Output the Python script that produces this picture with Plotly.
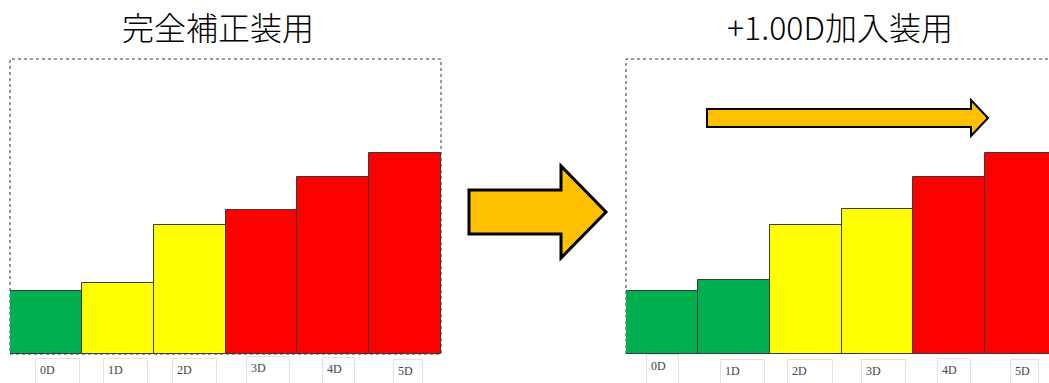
import plotly.graph_objects as go

# ---- data ----
categories = ["0D", "1D", "2D", "3D", "4D", "5D"]
full_values = [21.4, 24.1, 43.7, 48.8, 60.0, 68.1]
full_colors = ["#00B050", "#FFFF00", "#FFFF00", "#FF0000", "#FF0000", "#FF0000"]
add_values = [21.4, 25.1, 43.7, 49.2, 60.0, 68.1]
add_colors = ["#00B050", "#00B050", "#FFFF00", "#FFFF00", "#FF0000", "#FF0000"]
titles = ["完全補正装用", "+1.00D加入装用"]

W, H = 1049, 383


def px(x):
    return x / W


def py(y):
    return 1 - y / H


fig = go.Figure()
fig.add_trace(go.Bar(x=categories, y=full_values, marker=dict(color=full_colors, line=dict(color="#3a3a3a", width=1)),
                     width=1, xaxis="x", yaxis="y", hoverinfo="x+y"))
fig.add_trace(go.Bar(x=categories, y=add_values, marker=dict(color=add_colors, line=dict(color="#3a3a3a", width=1)),
                     width=1, xaxis="x2", yaxis="y2", hoverinfo="x+y"))

plot_top, plot_bottom = 59, 354
ydom = [py(plot_bottom), py(plot_top)]
left_dom = [px(10), px(441)]
right_dom = [px(626), 1.0]
cat_px = (441 - 10) / 6.0
right_end = -0.5 + (W - 626) / cat_px

axis_common = dict(showgrid=False, zeroline=False, showticklabels=False, showline=False, ticks="", fixedrange=True)
fig.update_layout(
    width=W, height=H,
    margin=dict(l=0, r=0, t=0, b=0),
    paper_bgcolor="white", plot_bgcolor="rgba(0,0,0,0)",
    showlegend=False, bargap=0,
    xaxis=dict(domain=left_dom, range=[-0.5, 5.5], anchor="y", **axis_common),
    yaxis=dict(domain=ydom, range=[0, 100], anchor="x", **axis_common),
    xaxis2=dict(domain=right_dom, range=[-0.5, right_end], anchor="y2", **axis_common),
    yaxis2=dict(domain=ydom, range=[0, 100], anchor="x2", **axis_common),
)

frame_line = dict(color="#333333", width=1, dash="dot")
shapes = []
# dotted frames
shapes.append(dict(type="rect", xref="x domain", yref="y domain", x0=0, x1=1, y0=0, y1=1,
                   line=frame_line, layer="below"))
shapes.append(dict(type="path", xref="paper", yref="paper",
                   path=f"M {px(626)} {py(plot_bottom)} L {px(626)} {py(plot_top)} L 1 {py(plot_top)}",
                   line=frame_line, layer="below"))


def arrow_path(pts):
    return "M " + " L ".join(f"{px(x)} {py(y)}" for x, y in pts) + " Z"


# big transition arrow
big = [(469, 190), (561, 190), (561, 166), (606, 212), (561, 258), (561, 234), (469, 234)]
shapes.append(dict(type="path", xref="paper", yref="paper", path=arrow_path(big),
                   fillcolor="#FFC000", line=dict(color="black", width=3)))
# shift arrow above right panel
small = [(707, 109), (971, 109), (971, 100), (988, 118), (971, 136), (971, 127), (707, 127)]
shapes.append(dict(type="path", xref="paper", yref="paper", path=arrow_path(small),
                   fillcolor="#FFC000", line=dict(color="black", width=2)))

annotations = []
for t, cx in zip(titles, [218, 840]):
    annotations.append(dict(text=t, x=px(cx), y=py(26), xref="paper", yref="paper", showarrow=False,
                            xanchor="center", yanchor="middle",
                            font=dict(family="Noto Sans CJK JP", size=32, weight=300, color="black")))

# category label boxes: (box center x, box top y, box width)
left_boxes = [(57.5, 358, 45), (125.5, 358, 45), (194.5, 358, 45), (268, 356, 44), (338.5, 357, 33), (408, 359, 30)]
right_boxes = [(662.5, 354, 33), (742.5, 359, 45), (810, 359, 46), (883.5, 359, 45), (954, 358, 34), (1024.5, 359, 29)]
for boxes in (left_boxes, right_boxes):
    for lab, (cx, top, w) in zip(categories, boxes):
        annotations.append(dict(text=lab, x=px(cx), y=py(top), xref="paper", yref="paper", showarrow=False,
                                xanchor="center", yanchor="top", width=w - 10, height=24, align="left",
                                valign="top", borderpad=4, bordercolor="#e2e2e2", borderwidth=1,
                                bgcolor="white",
                                font=dict(family="Liberation Serif", size=12, color="#444444")))

fig.update_layout(shapes=shapes, annotations=annotations)
fig.write_html("out.html")
